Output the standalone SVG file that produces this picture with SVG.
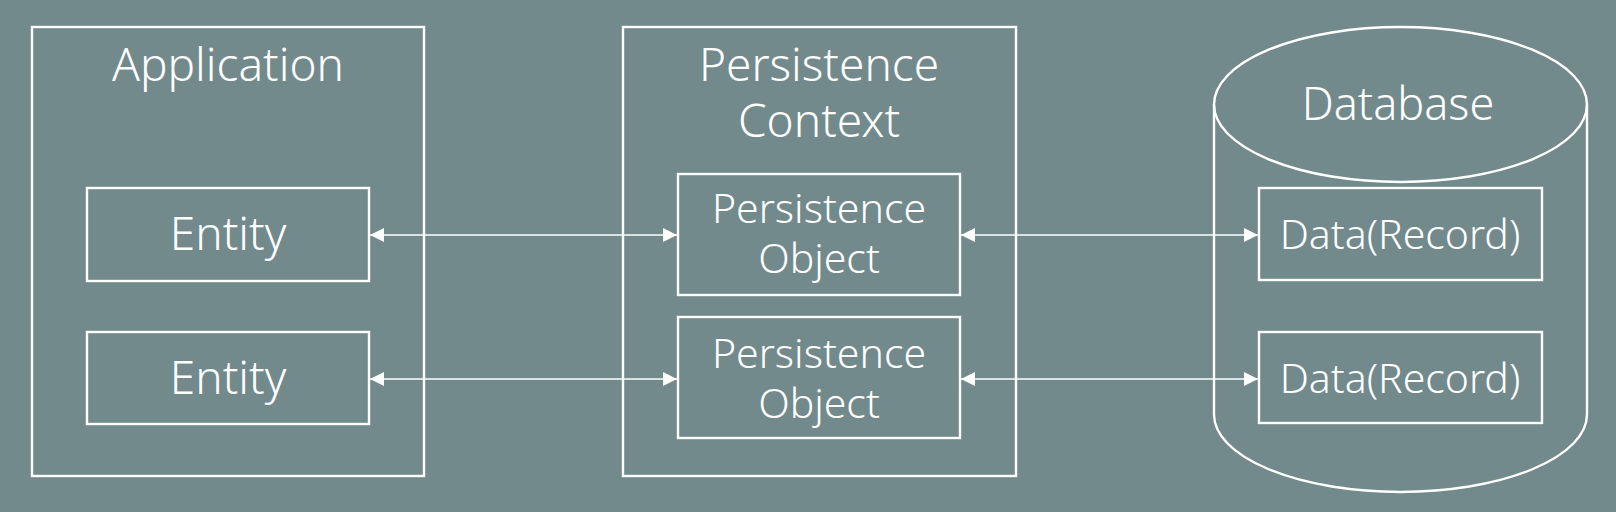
<svg xmlns="http://www.w3.org/2000/svg" width="1616" height="512" viewBox="0 0 1616 512">
<defs>
<marker id="ah" viewBox="0 0 14 14" refX="14" refY="7" markerWidth="14" markerHeight="14" markerUnits="userSpaceOnUse" orient="auto-start-reverse">
<path d="M0,0 L14,7 L0,14 Z" fill="#ffffff"/>
</marker>
<style>
.box{fill:none;stroke:#ffffff;stroke-width:2.4}
.t{fill:#ffffff;font-family:"Noto Sans","Open Sans","DejaVu Sans",sans-serif;font-weight:300;text-anchor:middle}
.big{font-size:46px}
.mid{font-size:41px}
.conn{stroke:#ffffff;stroke-width:1.6;fill:none}
</style>
</defs>
<rect width="1616" height="512" fill="#728a8b"/>
<g id="application">
<rect class="box" x="32" y="27" width="392" height="449"/>
<text class="t big" x="228" y="81">Application</text>
</g>
<g id="entity1">
<rect class="box" x="87" y="188" width="282" height="93"/>
<text class="t big" x="228" y="250">Entity</text>
</g>
<g id="entity2">
<rect class="box" x="87" y="332" width="282" height="92"/>
<text class="t big" x="228" y="394">Entity</text>
</g>
<g id="persistence-context">
<rect class="box" x="623" y="27" width="393" height="449"/>
<text class="t big" x="819" y="81">Persistence</text>
<text class="t big" x="819" y="137">Context</text>
</g>
<g id="po1">
<rect class="box" x="678" y="174" width="282" height="121"/>
<text class="t mid" x="819" y="223">Persistence</text>
<text class="t mid" x="819" y="273">Object</text>
</g>
<g id="po2">
<rect class="box" x="678" y="317" width="282" height="121"/>
<text class="t mid" x="819" y="368">Persistence</text>
<text class="t mid" x="819" y="418">Object</text>
</g>
<g id="database">
<path class="box" d="M1214,104.5 L1214,414.5 A186.5,77.5 0 0 0 1587,414.5 L1587,104.5"/>
<ellipse class="box" cx="1400.5" cy="104.5" rx="186.5" ry="77.5"/>
<text class="t" style="font-size:45px" x="1398" y="120">Database</text>
</g>
<g id="data1">
<rect class="box" x="1259" y="188" width="283" height="92"/>
<text class="t mid" x="1400" y="249">Data(Record)</text>
</g>
<g id="data2">
<rect class="box" x="1259" y="332" width="283" height="91"/>
<text class="t mid" x="1400" y="393">Data(Record)</text>
</g>
<g id="connectors">
<line class="conn" x1="370" y1="235" x2="677" y2="235" marker-start="url(#ah)" marker-end="url(#ah)"/>
<line class="conn" x1="370" y1="379" x2="677" y2="379" marker-start="url(#ah)" marker-end="url(#ah)"/>
<line class="conn" x1="961" y1="235" x2="1258" y2="235" marker-start="url(#ah)" marker-end="url(#ah)"/>
<line class="conn" x1="961" y1="379" x2="1258" y2="379" marker-start="url(#ah)" marker-end="url(#ah)"/>
</g>
</svg>
